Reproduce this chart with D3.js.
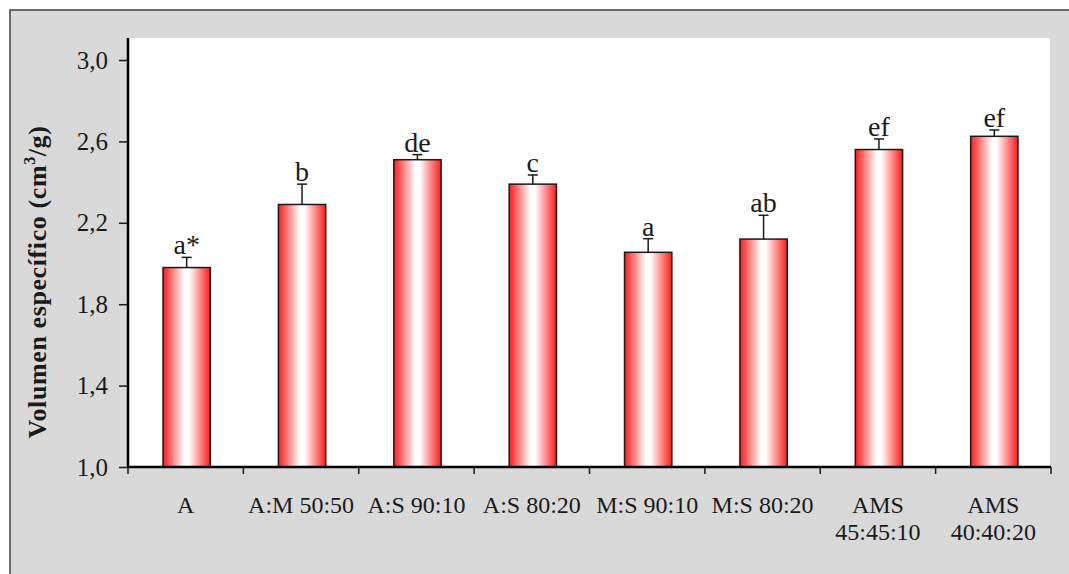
<!DOCTYPE html>
<html>
<head>
<meta charset="utf-8">
<script src="https://cdn.jsdelivr.net/npm/d3@7"></script>
<style>
  html, body { margin: 0; padding: 0; background: #fff; }
  text { font-family: "Liberation Serif", "DejaVu Serif", serif; fill: #1a1a1a; }
</style>
</head>
<body>
<svg id="chart" width="1069" height="574"></svg>
<script>
// Categories (second line after "|")
const categories = ["A", "A:M 50:50", "A:S 90:10", "A:S 80:20", "M:S 90:10", "M:S 80:20", "AMS|45:45:10", "AMS|40:40:20"];
const means = [1.98, 2.29, 2.51, 2.39, 2.055, 2.12, 2.56, 2.625];
const errors = [0.05, 0.10, 0.025, 0.045, 0.067, 0.117, 0.052, 0.031];
const letters = ["a*", "b", "de", "c", "a", "ab", "ef", "ef"];
const yTicks = [1.0, 1.4, 1.8, 2.2, 2.6, 3.0];

const svg = d3.select('#chart');

// Outer frame
svg.append('rect')
  .attr('x', 10).attr('y', 10)
  .attr('width', 1080).attr('height', 600)
  .attr('fill', '#d9d9d9')
  .attr('stroke', '#404040')
  .attr('stroke-width', 1.5);

const plot = { left: 128, right: 1051, top: 38, bottom: 467 };

// White plot area
svg.append('rect')
  .attr('x', plot.left).attr('y', plot.top)
  .attr('width', plot.right - plot.left - 1).attr('height', plot.bottom - plot.top)
  .attr('fill', '#fff');

const x = d3.scaleBand()
  .domain(categories)
  .range([plot.left, plot.right])
  .padding(0);

const y = d3.scaleLinear()
  .domain([1.0, 3.0])
  .range([plot.bottom, 60]);

// Bar gradient: red edges, white centre
const defs = svg.append('defs');
const grad = defs.append('linearGradient')
  .attr('id', 'barGrad')
  .attr('x1', '0%').attr('x2', '100%')
  .attr('y1', '0%').attr('y2', '0%');
grad.append('stop').attr('offset', '0%').attr('stop-color', '#ff1a1a');
grad.append('stop').attr('offset', '45%').attr('stop-color', '#ffffff');
grad.append('stop').attr('offset', '55%').attr('stop-color', '#ffffff');
grad.append('stop').attr('offset', '100%').attr('stop-color', '#ff1a1a');

const barW = x.bandwidth() * 0.41;
const cx = c => x(c) + x.bandwidth() / 2 + 1;

const data = categories.map((c, i) => ({ c, v: means[i], e: errors[i], l: letters[i] }));

// Bars
svg.selectAll('.bar')
  .data(data)
  .enter().append('rect')
  .attr('class', 'bar')
  .attr('x', d => cx(d.c) - barW / 2)
  .attr('y', d => y(d.v))
  .attr('width', barW)
  .attr('height', d => y(1.0) - y(d.v))
  .attr('fill', 'url(#barGrad)')
  .attr('stroke', '#1a1a1a')
  .attr('stroke-width', 1.5);

// Error bars (upper only)
const eb = svg.selectAll('.err')
  .data(data)
  .enter().append('g')
  .attr('class', 'err');
eb.append('line')
  .attr('x1', d => cx(d.c)).attr('x2', d => cx(d.c))
  .attr('y1', d => y(d.v)).attr('y2', d => y(d.v + d.e))
  .attr('stroke', '#1a1a1a').attr('stroke-width', 1.5);
eb.append('line')
  .attr('x1', d => cx(d.c) - 5).attr('x2', d => cx(d.c) + 5)
  .attr('y1', d => y(d.v + d.e)).attr('y2', d => y(d.v + d.e))
  .attr('stroke', '#1a1a1a').attr('stroke-width', 1.5);

// Significance letters
svg.selectAll('.letter')
  .data(data)
  .enter().append('text')
  .attr('class', 'letter')
  .attr('x', d => cx(d.c))
  .attr('y', d => y(d.v + d.e) - 3)
  .attr('text-anchor', 'middle')
  .attr('font-size', 28)
  .text(d => d.l);

// Y axis
const yAxis = d3.axisLeft(y)
  .tickValues(yTicks)
  .tickSize(9)
  .tickPadding(11)
  .tickFormat(d => d.toFixed(1).replace('.', ','));
const yg = svg.append('g')
  .attr('transform', `translate(${plot.left},0)`)
  .call(yAxis);
yg.select('.domain').remove();
yg.selectAll('.tick line').attr('stroke', '#1a1a1a').attr('stroke-width', 1.5);
yg.selectAll('.tick text')
  .attr('font-size', 25)
  .attr('font-family', '"Liberation Serif", serif')
  .attr('fill', '#1a1a1a');
svg.append('line')
  .attr('x1', plot.left).attr('x2', plot.left)
  .attr('y1', plot.top).attr('y2', plot.bottom + 1)
  .attr('stroke', '#000').attr('stroke-width', 2.5);

// X axis: ticks between categories
const bounds = categories.map(c => x(c)).concat([plot.right]);
svg.selectAll('.xtick')
  .data(bounds)
  .enter().append('line')
  .attr('class', 'xtick')
  .attr('x1', d => d).attr('x2', d => d)
  .attr('y1', plot.bottom).attr('y2', plot.bottom + 7)
  .attr('stroke', '#1a1a1a').attr('stroke-width', 1.5);
svg.append('line')
  .attr('x1', plot.left - 1).attr('x2', plot.right)
  .attr('y1', plot.bottom).attr('y2', plot.bottom)
  .attr('stroke', '#000').attr('stroke-width', 2.5);

const xl = svg.selectAll('.xlabel')
  .data(categories)
  .enter().append('text')
  .attr('class', 'xlabel')
  .attr('text-anchor', 'middle')
  .attr('font-size', 24)
  .attr('y', 513);
xl.selectAll('tspan')
  .data(c => c.split('|').map(s => ({ s, c })))
  .enter().append('tspan')
  .attr('x', d => x(d.c) + x.bandwidth() / 2)
  .attr('dy', (d, i) => i === 0 ? 0 : 27)
  .text(d => d.s);

// Y axis title
const title = svg.append('text')
  .attr('transform', 'translate(46,282) rotate(-90)')
  .attr('text-anchor', 'middle')
  .attr('font-size', 26)
  .attr('font-weight', 'bold')
  .attr('letter-spacing', 0.6);
title.append('tspan').text('Volumen específico (cm');
title.append('tspan').attr('font-size', 16).attr('dy', -11).text('3');
title.append('tspan').attr('dy', 11).text('/g)');
</script>
</body>
</html>
